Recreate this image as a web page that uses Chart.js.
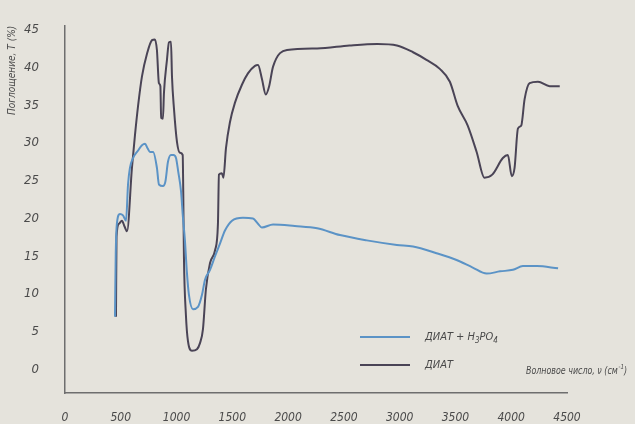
<!DOCTYPE html>
<html>
<head>
<meta charset="utf-8">
<script src="https://cdn.jsdelivr.net/npm/chart.js@4"></script>
<style>
  html, body { margin: 0; padding: 0; background: #e5e3dc; }
  #wrap { width: 635px; height: 424px; }
</style>
</head>
<body>
<div id="wrap"><canvas id="ir-chart" width="635" height="424"></canvas></div>
<script>
// wavenumbers (cm-1) and absorption values
const diatAcidWave = [448, 455, 465, 493, 520, 547, 565, 582, 610, 655, 690, 717, 740, 762, 790, 824, 842, 878, 900, 923, 950, 972, 995, 1015, 1040, 1057, 1075, 1093, 1111, 1147, 1192, 1228, 1255, 1300, 1345, 1390, 1434, 1497, 1595, 1685, 1730, 1765, 1865, 2060, 2260, 2465, 2705, 2975, 3120, 3330, 3510, 3655, 3780, 3900, 4015, 4105, 4230, 4420];
const diatAcidT = [7.0, 15.5, 19.3, 20.6, 20.4, 19.7, 24.5, 26.7, 28.0, 29.0, 29.7, 29.9, 29.3, 28.8, 28.8, 26.7, 24.5, 24.3, 24.9, 27.5, 28.4, 28.4, 28.0, 26.2, 23.6, 20.2, 17.1, 12.8, 9.9, 8.0, 8.3, 9.9, 11.9, 13.2, 15.0, 16.7, 18.4, 19.7, 20.1, 20.0, 19.3, 18.8, 19.2, 19.0, 18.7, 17.8, 17.1, 16.5, 16.3, 15.4, 14.5, 13.5, 12.7, 13.0, 13.2, 13.7, 13.7, 13.4];

const diatWave = [457, 462, 484, 510, 535, 556, 600, 627, 655, 690, 735, 780, 806, 824, 842, 855, 862, 878, 887, 914, 932, 950, 959, 977, 1004, 1030, 1055, 1060, 1066, 1084, 1102, 1138, 1183, 1210, 1237, 1263, 1300, 1345, 1371, 1380, 1406, 1420, 1443, 1478, 1523, 1586, 1640, 1703, 1730, 1765, 1800, 1830, 1865, 1990, 2260, 2550, 2800, 2975, 3120, 3240, 3360, 3450, 3520, 3610, 3690, 3760, 3830, 3925, 3970, 4005, 4030, 4060, 4090, 4120, 4165, 4240, 4345, 4435];
const diatT = [7.0, 17.6, 19.3, 19.7, 18.9, 18.3, 26.7, 31.0, 34.9, 38.8, 41.8, 43.6, 43.7, 42.3, 37.9, 37.5, 33.3, 33.2, 36.6, 41.0, 43.3, 43.4, 38.8, 34.5, 30.1, 28.7, 28.4, 23.6, 15.0, 7.2, 3.8, 2.5, 2.7, 3.5, 5.4, 10.6, 14.1, 15.8, 19.3, 25.8, 26.0, 25.4, 29.3, 32.7, 35.3, 37.7, 39.2, 40.2, 40.3, 38.5, 36.4, 37.5, 40.1, 42.3, 42.5, 42.9, 43.1, 42.9, 42.0, 41.0, 39.8, 38.1, 34.9, 32.3, 28.8, 25.4, 25.8, 28.0, 28.4, 25.6, 26.7, 31.9, 32.3, 35.8, 37.9, 38.1, 37.5, 37.5];

const xTicks = [0, 500, 1000, 1500, 2000, 2500, 3000, 3500, 4000, 4500];
const yTicks = [0, 5, 10, 15, 20, 25, 30, 35, 40, 45];

const FONT = "'Liberation Sans Narrow', 'DejaVu Sans Condensed', sans-serif";
const TEXT = '#4a4a4a';

function toPoints(xs, ys) {
    return xs.map((x, i) => ({ x: x, y: ys[i] }));
}

// legend + x-axis caption drawn inside the plot like in the print
const insideText = {
    id: 'insideText',
    afterDraw(chart) {
        const ctx = chart.ctx;
        const rows = [
            { ds: chart.data.datasets[0], y: 337 },
            { ds: chart.data.datasets[1], y: 365 }
        ];
        ctx.save();
        ctx.textBaseline = 'middle';
        rows.forEach(r => {
            ctx.strokeStyle = r.ds.borderColor;
            ctx.lineWidth = 2;
            ctx.beginPath();
            ctx.moveTo(360, r.y);
            ctx.lineTo(410, r.y);
            ctx.stroke();
            ctx.fillStyle = TEXT;
            let x = 425;
            r.ds.label.split(/(\d)/).forEach(part => {
                if (/^\d$/.test(part)) {
                    ctx.font = 'italic 8px ' + FONT;
                    ctx.fillText(part, x, r.y + 4);
                } else {
                    ctx.font = 'italic 11px ' + FONT;
                    ctx.fillText(part, x, r.y);
                }
                x += ctx.measureText(part).width;
            });
        });
        // caption squeezed a little, the print uses a very narrow face
        const cap = 'Волновое число, ν (см';
        ctx.translate(526, 371);
        ctx.scale(0.88, 1);
        ctx.font = 'italic 10px ' + FONT;
        ctx.fillText(cap, 0, 0);
        let w = ctx.measureText(cap).width;
        ctx.font = 'italic 7px ' + FONT;
        ctx.fillText('-1', w + 1, -4);
        let w2 = ctx.measureText('-1').width;
        ctx.font = 'italic 10px ' + FONT;
        ctx.fillText(')', w + w2 + 1, 0);
        ctx.restore();
    }
};

new Chart(document.getElementById('ir-chart').getContext('2d'), {
    type: 'line',
    data: {
        datasets: [{
            label: 'ДИАТ + H3PO4',
            data: toPoints(diatAcidWave, diatAcidT),
            borderColor: '#5b93c6',
            borderWidth: 2,
            pointRadius: 0,
            cubicInterpolationMode: 'monotone'
        }, {
            label: 'ДИАТ',
            data: toPoints(diatWave, diatT),
            borderColor: '#4a4456',
            borderWidth: 2,
            pointRadius: 0,
            cubicInterpolationMode: 'monotone'
        }]
    },
    options: {
        responsive: false,
        animation: false,
        layout: { padding: { left: 2, top: 18, right: 68, bottom: 0 } },
        plugins: {
            legend: { display: false },
            tooltip: { enabled: false }
        },
        scales: {
            x: {
                type: 'linear',
                min: 0,
                max: 4500,
                afterBuildTicks: s => { s.ticks = xTicks.map(v => ({ value: v })); },
                afterFit: s => { s.height = 31; },
                grid: { display: false },
                border: { display: true, color: '#6e6e6e', width: 1.5 },
                ticks: {
                    padding: 10,
                    color: TEXT,
                    font: { family: FONT, size: 12, style: 'italic' },
                    maxRotation: 0,
                    callback: v => String(v)
                }
            },
            y: {
                min: -3.1,
                max: 45.5,
                afterBuildTicks: s => { s.ticks = yTicks.map(v => ({ value: v })); },
                afterFit: s => { s.width = 63; },
                grid: { display: false },
                border: { display: true, color: '#6e6e6e', width: 1.5 },
                ticks: {
                    padding: 18,
                    color: TEXT,
                    font: { family: FONT, size: 13, style: 'italic' },
                    callback: v => String(v)
                },
                title: {
                    display: true,
                    text: 'Поглощение, T (%)',
                    align: 'end',
                    color: TEXT,
                    padding: { top: 4, bottom: 0 },
                    font: { family: FONT, size: 10, style: 'italic' }
                }
            }
        }
    },
    plugins: [insideText]
});
</script>
</body>
</html>
